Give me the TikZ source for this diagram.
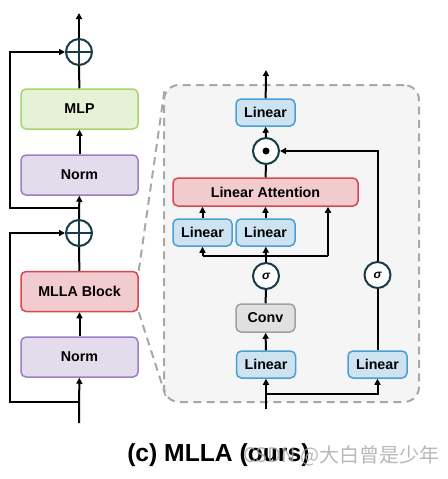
\documentclass[tikz,border=0pt]{standalone}
\usepackage{fontspec}
\setmainfont{Liberation Sans}
\newfontfamily\cjk{Noto Sans CJK SC}
\usetikzlibrary{arrows.meta,calc}
\definecolor{mlpf}{HTML}{E6F2D6}
\definecolor{mlpd}{HTML}{A6D56E}
\definecolor{normf}{HTML}{E2DCEC}
\definecolor{normd}{HTML}{9C80C0}
\definecolor{redf}{HTML}{F2CBCE}
\definecolor{redd}{HTML}{D9464E}
\definecolor{linf}{HTML}{CDE3F1}
\definecolor{lind}{HTML}{4A9ED6}
\definecolor{convf}{HTML}{E0E0E0}
\definecolor{convd}{HTML}{A0A0A0}
\definecolor{framef}{HTML}{F5F5F5}
\definecolor{framed}{HTML}{A8A8A8}
\definecolor{opc}{HTML}{173B48}
\def\u{0.75pt}
\begin{document}
\begin{tikzpicture}[x=0.75pt,y=-0.75pt,
  blk/.style={draw, rounded corners=5*\u, line width=1.5*\u, inner sep=0pt,
    font=\fontsize{10.7}{12}\selectfont\bfseries, text=black},
  bigbox/.style={blk, minimum width=117*\u, minimum height=40*\u},
  normbox/.style={bigbox, fill=normf, draw=normd},
  linbox/.style={blk, fill=linf, draw=lind, minimum width=59*\u, minimum height=27*\u},
  op/.style={circle, draw=opc, line width=1.5pt, fill=white, minimum size=26*\u, inner sep=0pt,
    font=\fontsize{9}{10}\selectfont\bfseries\itshape},
  conn/.style={line width=1.5pt, black},
  arr/.style={conn, -{Triangle[length=4.5pt,width=4.5pt]}},
  dsh/.style={draw=framed, line width=1.5pt, dash pattern=on 6pt off 4pt}
]
\useasboundingbox (0,0) rectangle (448,479);

% ---------- left column ----------
\node[op] (add1) at (79,52) {};
\node[bigbox, fill=mlpf, draw=mlpd] (mlp) at (79.5,109) {MLP};
\node[normbox] (norm1) at (79.5,175) {Norm};
\node[op] (add2) at (79,233) {};
\node[bigbox, fill=redf, draw=redd] (mlla) at (79.5,291.5) {MLLA Block};
\node[normbox] (norm2) at (79.5,357) {Norm};
\coordinate (out) at (79,13);
\coordinate (in) at (79,423);
\coordinate (s1) at (79,208);
\coordinate (k1) at (10,208);
\coordinate (s2) at (79,402);
\coordinate (k2) at (10,402);

\foreach \c in {add1,add2}{
  \draw[opc, line width=1.5pt] (\c.north) -- (\c.south) (\c.west) -- (\c.east);
}
\draw[arr] (add1) -- (out);
\draw[conn] (mlp) -- (add1);
\draw[arr] (norm1) -- (mlp);
\draw[arr] (add2) -- (norm1);
\draw[arr] (s1) -- (k1) |- (add1);
\draw[conn] (mlla) -- (add2);
\draw[arr] (norm2) -- (mlla);
\draw[arr] (in) -- (norm2);
\draw[arr] (s2) -- (k2) |- (add2);

% ---------- zoom frame ----------
\coordinate (ftl) at (165,87);
\coordinate (fbl) at (167,400);
\draw[dsh] (mlla.north east) -- (ftl);
\draw[dsh] (mlla.south east) -- (fbl);
\node[dsh, fill=framef, rounded corners=15*\u, minimum width=255*\u, minimum height=317*\u, inner sep=0pt] (frame) at (291.5,243.5) {};

% ---------- inner block ----------
\node[linbox] (lo) at (265.5,112.5) {Linear};
\node[op] (mul) at (266,151) {};
\fill[black] (mul.center) circle (3.5*\u);
\node[blk, fill=redf, draw=redd, minimum width=185*\u, minimum height=28*\u] (la) at (265.5,192) {Linear Attention};
\node[linbox] (lq) at (202.5,232.5) {Linear};
\node[linbox] (lk) at (265.5,232.5) {Linear};
\node[op] (sg1) at (266,276) {σ};
\node[blk, fill=convf, draw=convd, minimum width=59*\u, minimum height=28*\u] (conv) at (265.5,318) {Conv};
\node[linbox] (l1) at (266,364.5) {Linear};
\node[linbox] (l2) at (377.5,364.5) {Linear};
\node[op] (sg2) at (377.5,275) {σ};
\coordinate (out2) at (266,70);
\coordinate (in2) at (266,409);
\coordinate (b2) at (266,394);
\coordinate (br) at (266,256);
\coordinate (v) at (328,256);
\coordinate (bq) at (202.5,256);

\draw[arr] (lo) -- (out2);
\draw[arr] (mul) -- (lo);
\draw[conn] (la) -- (mul);
\draw[arr] (lq.north) -- (lq.north|-la.south);
\draw[arr] (lk) -- (la);
\draw[arr] (v) -- (v|-la.south);
\draw[conn] (bq) -- (v);
\draw[arr] (bq) -- (lq);
\draw[arr] (br) -- (lk);
\draw[conn] (sg1) -- (br);
\draw[conn] (conv) -- (sg1);
\draw[arr] (l1) -- (conv);
\draw[arr] (in2) -- (l1);
\draw[arr] (b2) -| (l2);
\draw[conn] (l2) -- (sg2);
\draw[arr] (sg2) |- (mul);

% ---------- caption ----------
\node[anchor=west, inner sep=0pt, font=\fontsize{18.5}{20}\selectfont\bfseries] (cap) at (127,455) {(c) MLLA (ours)};
\node[anchor=west, inner sep=0pt, text=black!35, opacity=0.8, font=\cjk\fontsize{15}{16}\selectfont] (wm) at (243,456) {CSDN @大白曾是少年};
\end{tikzpicture}
\end{document}
